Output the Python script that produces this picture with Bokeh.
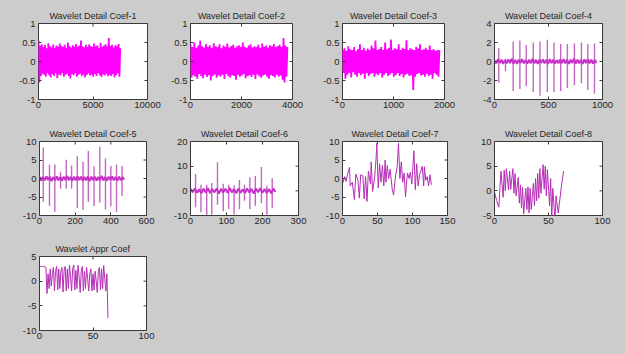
import numpy as np
from bokeh.plotting import figure
from bokeh.models import Range1d, FixedTicker
from bokeh.layouts import column, row
from bokeh.embed import file_html
from bokeh.resources import INLINE

# ---------------- data ----------------
titles = ["Wavelet Detail Coef-1", "Wavelet Detail Coef-2", "Wavelet Detail Coef-3",
          "Wavelet Detail Coef-4", "Wavelet Detail Coef-5", "Wavelet Detail Coef-6",
          "Wavelet Detail Coef-7", "Wavelet Detail Coef-8", "Wavelet Appr Coef"]

# dense detail levels: alternating upper / lower band readings over the sample span
c1_len = 7500
c1 = [0.55, -0.55, 0.42, -0.38, 0.45, -0.32, 0.38, -0.35, 0.44, -0.4, 0.35, -0.3, 0.48, -0.36, 0.4, -0.42,
      0.37, -0.33, 0.45, -0.38, 0.36, -0.31, 0.42, -0.44, 0.39, -0.34, 0.47, -0.37, 0.41, -0.3, 0.38, -0.4,
      0.44, -0.35, 0.36, -0.32, 0.5, -0.38, 0.4, -0.45, 0.37, -0.33, 0.43, -0.36, 0.39, -0.3, 0.46, -0.4,
      0.38, -0.35, 0.42, -0.32, 0.55, -0.38, 0.4, -0.34, 0.37, -0.42, 0.44, -0.36, 0.39, -0.31, 0.45, -0.37,
      0.41, -0.35, 0.38, -0.4, 0.47, -0.33, 0.4, -0.38, 0.43, -0.3, 0.36, -0.36, 0.49, -0.41, 0.38, -0.34,
      0.42, -0.37, 0.45, -0.32, 0.4, -0.39, 0.62, -0.35, 0.41, -0.38, 0.44, -0.33, 0.37, -0.42, 0.43, -0.36,
      0.4, -0.3, 0.46, -0.4, 0.35]
c2_len = 3800
c2 = [0.45, -0.42, 0.38, -0.36, 0.5, -0.4, 0.36, -0.45, 0.42, -0.33, 0.55, -0.38, 0.4, -0.44, 0.37, -0.35,
      0.46, -0.41, 0.39, -0.36, 0.43, -0.5, 0.36, -0.38, 0.48, -0.34, 0.4, -0.43, 0.38, -0.37, 0.45, -0.4,
      0.35, -0.35, 0.42, -0.46, 0.39, -0.33, 0.47, -0.39, 0.37, -0.42, 0.41, -0.36, 0.44, -0.38, 0.36, -0.48,
      0.4, -0.35, 0.43, -0.4, 0.38, -0.37, 0.5, -0.33, 0.39, -0.44, 0.36, -0.38, 0.42, -0.36, 0.45, -0.41,
      0.37, -0.35, 0.4, -0.46, 0.38, -0.34, 0.44, -0.39, 0.36, -0.43, 0.47, -0.37, 0.39, -0.35, 0.42, -0.4,
      0.37, -0.45, 0.43, -0.36, 0.4, -0.38, 0.46, -0.42, 0.38, -0.35, 0.41, -0.4, 0.44, -0.37, 0.39, -0.48,
      0.62, -0.55, 0.42, -0.4, 0.38]
c3_len = 1900
c3 = [0.3, -0.3, 0.35, -0.45, 0.28, -0.35, 0.4, -0.3, 0.32, -0.42, 0.3, -0.28, 0.38, -0.35, 0.27, -0.4,
      0.33, -0.3, 0.45, -0.36, 0.3, -0.32, 0.36, -0.45, 0.28, -0.3, 0.34, -0.38, 0.3, -0.33, 0.42, -0.3,
      0.35, -0.4, 0.55, -0.32, 0.3, -0.36, 0.33, -0.3, 0.38, -0.42, 0.3, -0.35, 0.5, -0.3, 0.32, -0.38,
      0.36, -0.34, 0.58, -0.3, 0.3, -0.4, 0.35, -0.36, 0.32, -0.3, 0.45, -0.38, 0.3, -0.33, 0.36, -0.42,
      0.33, -0.35, 0.56, -0.32, 0.3, -0.38, 0.35, -0.36, 0.32, -0.75, 0.3, -0.4, 0.38, -0.33, 0.34, -0.3,
      0.45, -0.37, 0.3, -0.35, 0.32, -0.4, 0.36, -0.32, 0.3, -0.38, 0.42, -0.35, 0.3, -0.45, 0.33, -0.3,
      0.28, -0.35, 0.3, -0.4, 0.3]

# spiky detail levels: background band + spikes (sample, top, bottom)
c4_len = 944
c4_base = [0.1, -0.2, 0.25, -0.15, 0.2, -0.25, 0.15, -0.2, 0.22, -0.18, 0.3, -0.22, 0.18, -0.25, 0.2,
           -0.15, 0.25, -0.2, 0.15, -0.22, 0.2, -0.18, 0.28, -0.2, 0.18, -0.25, 0.2, -0.15, 0.22, -0.2,
           0.18, -0.25, 0.25, -0.18, 0.2, -0.22, 0.15, -0.2, 0.22, -0.18, 0.25, -0.2, 0.18, -0.25, 0.2,
           -0.15, 0.3, -0.22, 0.2, -0.2, 0.18, -0.25, 0.22, -0.18, 0.25, -0.2, 0.2, -0.22, 0.18, -0.15]
c4_spike_x = [40, 102, 173, 235, 294, 359, 421, 489, 551, 613, 675, 740, 805, 864, 926]
c4_spike_hi = [1.4, 0.3, 2.1, 2.2, 1.75, 2.0, 2.1, 2.3, 2.0, 1.85, 1.85, 1.9, 2.0, 1.85, 1.9]
c4_spike_lo = [-2.2, -1.0, -3.1, -2.9, -2.6, -3.2, -3.6, -3.2, -3.2, -3.1, -2.8, -2.5, -2.3, -3.0, -3.4]

c5_len = 475
c5_base = [0.5, -0.6, 0.4, -0.5, 0.6, -0.4, 0.5, -0.7, 0.4, -0.5, 0.6, -0.5, 0.4, -0.6, 0.5, -0.4, 0.7,
           -0.5, 0.4, -0.6, 0.5, -0.5, 0.6, -0.4, 0.5, -0.6, 0.4, -0.5, 0.6, -0.7, 0.5, -0.4, 0.5, -0.6,
           0.4, -0.5, 0.7, -0.5, 0.4, -0.6, 0.5, -0.4, 0.6, -0.5, 0.4, -0.6, 0.5, -0.5, 0.4, -0.3]
c5_spike_x = [21, 56, 86, 118, 150, 180, 212, 244, 274, 306, 338, 370, 400, 432, 463]
c5_spike_hi = [8.4, 3.8, 3.8, 1.8, 5.1, 3.5, 6.0, 4.5, 7.4, 3.3, 8.6, 5.4, 3.4, 3.8, 3.4]
c5_spike_lo = [-6.3, -7.4, -9.0, -2.8, -2.8, -2.8, -8.0, -8.5, -6.3, -7.4, -6.5, -8.4, -7.5, -9.0, -4.7]

c6_len = 236
c6_base = [0.8, -0.6, 1.0, -0.8, 0.6, -1.0, 0.9, -0.7, 1.1, -0.9, 0.7, -0.6, 1.0, -1.1, 0.8, -0.7, 0.9,
           -0.8, 1.2, -0.6, 0.7, -1.0, 0.9, -0.8, 0.6, -0.9, 1.0, -0.7, 0.8, -1.1, 0.9, -0.6, 1.1, -0.8,
           0.7, -0.9, 0.8, -1.0, 0.9, -0.5]
c6_spike_x = [14, 29, 45, 59, 75, 91, 106, 121, 136, 150, 165, 180, 197, 212, 227]
c6_spike_hi = [6.8, 2.5, 2.5, 3.2, 11.6, 2.9, 2.5, 2.2, 4.4, 2.5, 5.5, 6.0, 9.7, 2.2, 5.1]
c6_spike_lo = [-6.7, -8.7, -9.7, -9.7, -5.6, -8.3, -7.4, -9.6, -7.4, -4.0, -7.4, -6.0, -5.0, -9.6, -7.1]

# coarse levels: (sample, value) readings
c7_x = [0, 1, 3, 5, 7, 10, 11, 14, 17, 19, 22, 24, 26, 29, 31, 33, 35, 37, 40, 41, 43, 46, 48, 49, 51, 53,
        55, 57, 59, 61, 62, 64, 66, 68, 71, 73, 76, 78, 80, 82, 84, 86, 88, 90, 92, 93, 95, 97, 99, 102,
        104, 106, 108, 110, 112, 114, 116, 117, 119, 121, 123, 125, 127]
c7_y = [0, -1, 0.5, -0.8, 1, 3.0, -2, -1, -5.7, 1.2, -0.5, -5.3, 1, 0.8, -5.5, 0.5, -6.2, 2, -1.5, 4.5,
        -3.5, 0.5, 5.5, 9.5, -2.5, 4, -1, 3.5, -2, 5, -1, 3.5, 0, 2.5, -2.8, -4.5, 1, 3, 9.5, 0, 4.5, -1,
        1.5, -5, 0, 1.5, 0, 1.7, -1.5, 7.5, -3, 4, -2, 1, 2, 3.3, -2, 3.2, -0.5, 0.5, -2, 1, -1.7]

c8_x = [0, 2, 4, 6, 8, 9, 10, 11, 13, 14, 15, 17, 18, 19, 20, 22, 23, 24, 25, 26, 27, 29, 30, 31, 32, 33,
        34, 36, 37, 38, 39, 40, 41, 42, 43, 45, 46, 47, 48, 49, 51, 52, 53, 54, 56, 57, 59, 62, 64]
c8_y = [-0.2, -2.0, -3.3, 4.0, -1.3, 4.2, 0.0, 4.5, 0.2, 4.0, 0.3, 4.5, -0.5, 3.5, -1.0, 2.7, -2.5, 1.2,
        -3.5, 0.7, -4.7, 0.5, -3.8, 0.8, -4.5, 0.5, -3.8, 1.5, -3.0, 2.5, -2.0, 3.5, -1.5, 4.5, -0.5, 5.3,
        0.3, 5.0, -1.0, 4.3, -3.0, 2.5, -5.6, 0.5, -6.0, -1.0, -4.5, 1.0, 4.0]

appr_y = [3.0, 3.0, 3.0, 3.0, 3.0, 2.9, 2.8, -2.5, 1.5, -1.5, 2.5, -1.0, 1.5, 2.8, -2.0, 2.0, 3.0, -1.8,
          2.5, -1.5, 2.0, 2.8, -2.2, 2.2, 3.0, -2.0, 2.5, -1.5, 3.2, 1.0, -2.0, 2.5, 3.3, -1.8, 2.2, -1.5,
          3.2, 1.0, -2.3, 2.0, 3.0, -2.0, 2.0, -1.5, 2.8, 0.5, -2.0, 1.5, 2.5, -2.0, 1.5, -1.8, 2.0, 0.0,
          -2.3, 2.0, 2.8, -1.8, 2.5, -1.5, 3.2, 0.5, -2.0, 1.5, -7.5]

x_ranges = [(0, 10000), (0, 4000), (0, 2000), (0, 1000), (0, 600), (0, 300), (0, 150), (0, 100), (0, 100)]
y_ranges = [(-1, 1), (-1, 1), (-1, 1), (-4, 4), (-10, 10), (-10, 20), (-10, 10), (-5, 10), (-10, 5)]
x_ticks = [[0, 5000, 10000], [0, 2000, 4000], [0, 1000, 2000], [0, 500, 1000], [0, 200, 400, 600],
           [0, 100, 200, 300], [0, 50, 100, 150], [0, 50, 100], [0, 50, 100]]
y_ticks = [[-1, -0.5, 0, 0.5, 1], [-1, -0.5, 0, 0.5, 1], [-1, -0.5, 0, 0.5, 1], [-4, -2, 0, 2, 4],
           [-10, -5, 0, 5, 10], [-10, 0, 10, 20], [-10, -5, 0, 5, 10], [-5, 0, 5, 10], [-10, -5, 0, 5]]

# ---------------- styling / layout ----------------
BG = "#cccccc"
AX = "#3a3a3a"
TXT = "#262626"
FONT = "Liberation Sans"
MAG = "#ff00ff"
MAG_BASE = "#c82ec8"
MAG_SPIKE = "#b540b5"
MAG_DARK = "#b52db5"

# (fig width, fig height, border left, border right, border top, border bottom)
geoms = [
    (168, 123, 38, 21, 23, 24), (152, 123, 22, 28, 23, 24), (152, 123, 22, 28, 23, 24), (153, 123, 22, 23, 23, 24),
    (168, 115, 39, 22, 16, 23), (152, 115, 22, 22, 16, 23), (152, 115, 22, 25, 16, 23), (153, 115, 22, 23, 16, 23),
    (168, 116, 39, 22, 16, 24),
]


def fmt(t):
    return str(int(t)) if float(t).is_integer() else str(t)


def make_fig(i):
    w, h, bl, br, bt, bb = geoms[i]
    xr, yr = x_ranges[i], y_ranges[i]
    p = figure(width=w, height=h, x_range=Range1d(*xr), y_range=Range1d(*yr),
               output_backend="svg", toolbar_location=None,
               min_border_left=bl, min_border_right=br, min_border_top=bt, min_border_bottom=bb)
    p.background_fill_color = "white"
    p.border_fill_color = BG
    p.outline_line_color = AX
    p.outline_line_width = 1
    p.grid.grid_line_color = None
    for ax, ticks, standoff in ((p.xaxis[0], x_ticks[i], 2), (p.yaxis[0], y_ticks[i], 3)):
        ax.ticker = FixedTicker(ticks=ticks)
        ax.major_label_overrides = {t: fmt(t) for t in ticks}
        ax.major_tick_in = 3
        ax.major_tick_out = 0
        ax.minor_tick_in = 0
        ax.minor_tick_out = 0
        ax.axis_line_color = None
        ax.major_tick_line_color = AX
        ax.major_label_text_font = FONT
        ax.major_label_text_font_size = "9.5px"
        ax.major_label_text_color = TXT
        ax.major_label_standoff = standoff
    # inner tick marks on the top and right edges of the box (clipped to the frame)
    xt, yt = x_ticks[i], y_ticks[i]
    p.scatter(xt, [yr[1]] * len(xt), marker="dash", size=6, angle=np.pi / 2, line_color=AX, line_width=1)
    p.scatter([xr[1]] * len(yt), yt, marker="dash", size=6, line_color=AX, line_width=1)
    p.title.text = titles[i]
    p.title.align = "center"
    p.title.text_font = FONT
    p.title.text_font_size = "9px"
    p.title.text_font_style = "normal"
    p.title.text_color = TXT
    p.title.standoff = 6
    return p


figs = [make_fig(i) for i in range(9)]

# dense levels
for f, vals, n in ((figs[0], c1, c1_len), (figs[1], c2, c2_len), (figs[2], c3, c3_len)):
    xs = np.linspace(0, n, len(vals))
    f.line(xs, vals, line_color=MAG, line_width=1.8)

# spiky levels
for f, base, n, sx, shi, slo in ((figs[3], c4_base, c4_len, c4_spike_x, c4_spike_hi, c4_spike_lo),
                                 (figs[4], c5_base, c5_len, c5_spike_x, c5_spike_hi, c5_spike_lo),
                                 (figs[5], c6_base, c6_len, c6_spike_x, c6_spike_hi, c6_spike_lo)):
    xs = np.linspace(0, n, len(base))
    f.segment(x0=sx, y0=slo, x1=sx, y1=shi, line_color=MAG_SPIKE, line_width=1.4, line_alpha=0.8)
    f.line(xs, base, line_color=MAG_BASE, line_width=2)

figs[6].line(c7_x, c7_y, line_color=MAG_DARK, line_width=1)
figs[7].line(c8_x, c8_y, line_color=MAG_DARK, line_width=1)
figs[8].line(list(range(len(appr_y))), appr_y, line_color=MAG_DARK, line_width=1)

layout = column(row(*figs[0:4]), row(*figs[4:8]), row(figs[8]))
try:
    from bokeh.models import GlobalInlineStyleSheet
    layout.stylesheets = [GlobalInlineStyleSheet(css="html, body { background-color: #cccccc; }")]
except Exception:
    pass

open("out.html", "w").write(file_html(layout, INLINE))
